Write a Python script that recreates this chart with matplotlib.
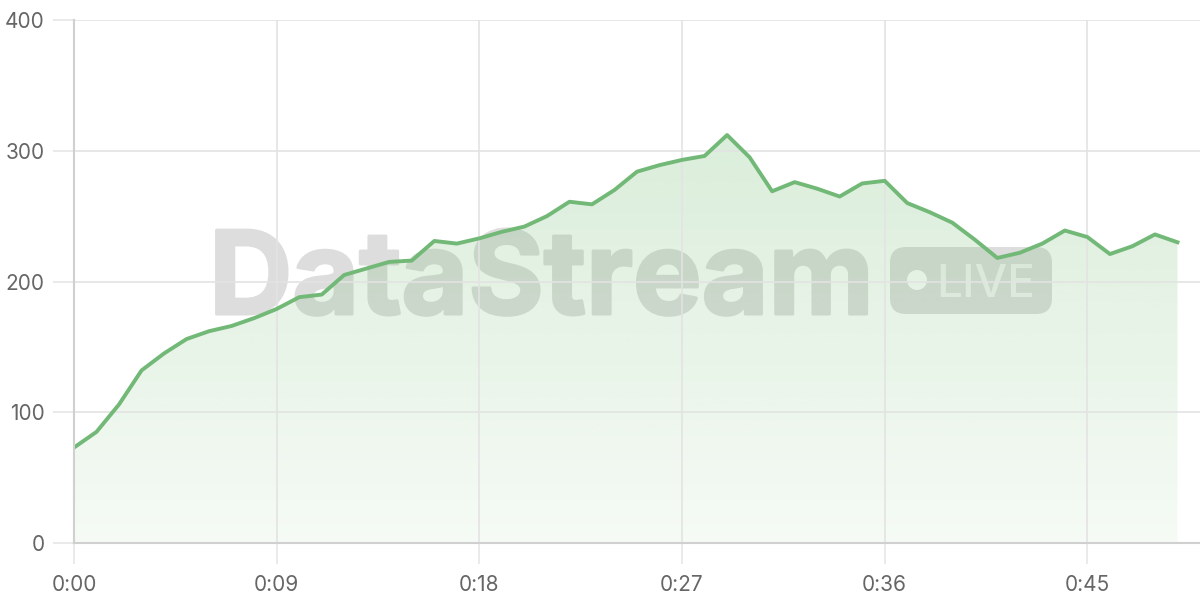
import matplotlib
matplotlib.use("Agg")
import matplotlib.pyplot as plt
import numpy as np
from matplotlib.patches import FancyBboxPatch, Circle
import matplotlib.patheffects as pe

seconds = list(range(50))
values = [73, 85, 106, 132, 145, 156, 162, 166, 172, 179,
          188, 190, 205, 210, 215, 216, 231, 229, 233, 238,
          242, 250, 261, 259, 270, 284, 289, 293, 296, 312,
          295, 269, 276, 271, 265, 275, 277, 260, 253, 245,
          232, 218, 222, 229, 239, 234, 221, 227, 236, 230]
x_ticks = [0, 9, 18, 27, 36, 45]
x_labels = ["0:00", "0:09", "0:18", "0:27", "0:36", "0:45"]
y_ticks = [0, 100, 200, 300, 400]

plt.rcParams['font.family'] = ['Inter', 'DejaVu Sans']

fig = plt.figure(figsize=(12, 6), dpi=100)
# pixel-coordinate helper axes (for the watermark placement only)
px = fig.add_axes([0, 0, 1, 1], facecolor='none', zorder=-1)
px.set_xlim(0, 1200)
px.set_ylim(600, 0)
px.axis('off')

ax = fig.add_axes([74/1200, 57/600, 1 - 74/1200, (543-20)/600], zorder=1)
ax.set_facecolor('none')
ax.set_xlim(0, 50)
ax.set_ylim(0, 400)

line_color = '#72b877'
x = np.array(seconds)
y = np.array(values)

# watermark (opaque, beneath translucent fill)
wm_color = '#dddddd'
t = ax.text(209, 314, 'DataStream', fontsize=83, fontweight='bold',
            color=wm_color, ha='left', va='baseline', transform=px.transData,
            zorder=0.2, clip_on=False)
t.set_path_effects([pe.withStroke(linewidth=2.2, foreground=wm_color)])
box = FancyBboxPatch((890, 247), 162, 67, boxstyle='round,pad=0,rounding_size=16',
                     facecolor=wm_color, edgecolor='none', transform=px.transData,
                     zorder=0.2, clip_on=False)
ax.add_patch(box)
dot = Circle((917, 280), 10, facecolor='white', edgecolor='none',
             transform=px.transData, zorder=0.3, clip_on=False)
ax.add_patch(dot)
ax.text(936, 297, 'LIVE', fontsize=33, fontweight='medium', color='#f4f4f4',
        ha='left', va='baseline', transform=px.transData, zorder=0.3, clip_on=False)

# translucent gradient fill
poly = ax.fill_between(x, y, 0, color='none', lw=0)
n = 256
alpha = np.linspace(0.07, 0.27, n).reshape(-1, 1)
rgba = np.zeros((n, 1, 4))
rgba[..., 0] = 120/255
rgba[..., 1] = 190/255
rgba[..., 2] = 120/255
rgba[..., 3] = alpha
im = ax.imshow(rgba, extent=[x.min(), x.max(), 0, y.max()], origin='lower',
               aspect='auto', zorder=1, interpolation='bilinear')
im.set_clip_path(poly.get_paths()[0], transform=ax.transData)

ax.plot(x, y, color=line_color, lw=2.8, zorder=4, solid_joinstyle='round')

# grid / ticks
ax.set_xticks(x_ticks)
ax.set_xticklabels(x_labels)
ax.set_yticks(y_ticks)
ax.set_axisbelow('line')
ax.grid(True, color='#e3e3e3', lw=1.2)
ax.tick_params(axis='both', length=15, width=1.2, color='#e6e6e6',
               labelsize=15, labelcolor='#666666')
ax.tick_params(axis='x', pad=8)
ax.tick_params(axis='y', pad=6)
for s in ['top', 'right']:
    ax.spines[s].set_visible(False)
for s in ['left', 'bottom']:
    ax.spines[s].set_color('#d0d0d0')
    ax.spines[s].set_linewidth(1.5)
    ax.spines[s].set_zorder(5)

fig.savefig('out.png', dpi=100, facecolor='white')
